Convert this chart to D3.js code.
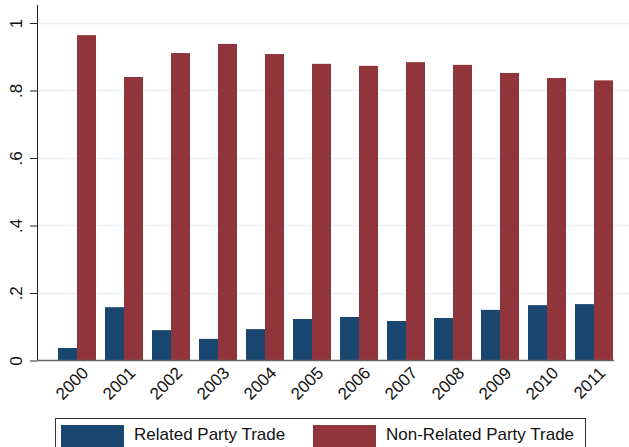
<!DOCTYPE html>
<html><head><meta charset="utf-8">
<script src="https://cdn.jsdelivr.net/npm/d3@7"></script>
<style>body{margin:0;background:#fff}svg{display:block;font-family:"Liberation Sans",Arial,sans-serif}</style>
</head><body><svg id="c" width="629" height="447"></svg>
<script>
const years = ["2000","2001","2002","2003","2004","2005","2006","2007","2008","2009","2010","2011"];
const related = [0.037,0.158,0.090,0.064,0.093,0.123,0.129,0.117,0.126,0.150,0.164,0.167];
const nonRelated = [0.964,0.840,0.911,0.938,0.908,0.879,0.873,0.884,0.876,0.852,0.837,0.830];
const seriesNames = ["Related Party Trade","Non-Related Party Trade"];
const colors = ["#1a476f","#90353b"];
const yTicks = [0,0.2,0.4,0.6,0.8,1];
const yTickLabels = ["0",".2",".4",".6",".8","1"];

const svg = d3.select("#c");
const y = d3.scaleLinear().domain([0,1]).range([360.5,23]);
const x0 = d3.scaleBand().domain(years).range([53.5,617.5]).paddingInner(9/47).paddingOuter(4.5/47);
const x1 = d3.scaleBand().domain([0,1]).range([0,x0.bandwidth()]);

// gridlines
svg.append("g").selectAll("line").data(yTicks.slice(1)).join("line")
  .attr("x1",37).attr("x2",629).attr("y1",d=>Math.round(y(d))+0.5).attr("y2",d=>Math.round(y(d))+0.5)
  .attr("stroke","#eaf2f3").attr("stroke-width",1.5);

// bars
const data = years.map((yr,i)=>({yr, vals:[related[i],nonRelated[i]]}));
const g = svg.append("g").selectAll("g").data(data).join("g").attr("transform",d=>`translate(${x0(d.yr)},0)`);
g.selectAll("rect").data(d=>d.vals.map((v,k)=>({v,k}))).join("rect")
  .attr("x",d=>x1(d.k)).attr("width",x1.bandwidth())
  .attr("y",d=>y(d.v)).attr("height",d=>y(0)-y(d.v))
  .attr("fill",d=>colors[d.k]);

// y axis
const yAxis = d3.axisLeft(y).tickValues(yTicks).tickFormat((d,i)=>yTickLabels[i]).tickSize(7).tickPadding(4);
const ya = svg.append("g").attr("transform","translate(37,0)").call(yAxis);
ya.select(".domain").attr("d","M0.5,5V360.5").attr("stroke","#222");
ya.selectAll(".tick line").attr("stroke","#222");
ya.selectAll(".tick text").attr("font-size",17).attr("fill","#111")
  .attr("transform","rotate(-90)").attr("x",0).attr("y",-15).attr("dy","0").attr("text-anchor","middle");

// x axis
const xa = svg.append("g").attr("transform","translate(0,360.5)")
  .call(d3.axisBottom(x0).tickSize(0).tickPadding(0));
xa.select(".domain").attr("d","M37,0H614").attr("stroke","#666").attr("stroke-width",1.5);
xa.selectAll(".tick text").attr("font-size",17).attr("fill","#111")
  .attr("text-anchor","end").attr("dy","0")
  .attr("transform","translate(4,5) rotate(-45)").attr("y",0).attr("dominant-baseline","hanging");

// legend
const leg = svg.append("g");
leg.append("rect").attr("x",55.5).attr("y",418.5).attr("width",530).attr("height",40)
  .attr("fill","#fff").attr("stroke","#333").attr("stroke-width",1);
const lx = [61,313];
seriesNames.forEach((n,i)=>{
  leg.append("rect").attr("x",lx[i]).attr("y",425).attr("width",63).attr("height",25).attr("fill",colors[i]);
  leg.append("text").attr("x",lx[i]+73).attr("y",440).attr("font-size",17).attr("fill","#111").text(n);
});
</script></body></html>
